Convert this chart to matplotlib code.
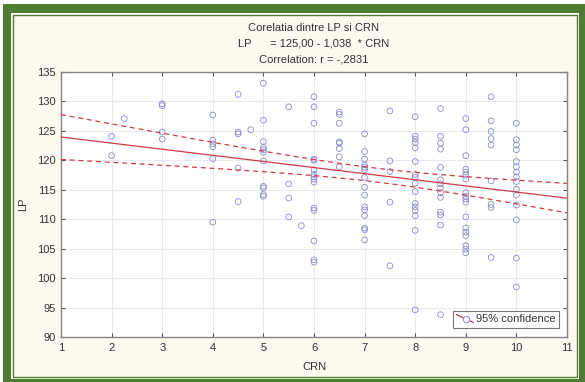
import numpy as np
import matplotlib.pyplot as plt
from matplotlib.lines import Line2D
from matplotlib.patches import Rectangle
from matplotlib.legend_handler import HandlerBase

plt.rcParams['font.family'] = ['Liberation Sans', 'DejaVu Sans']

# Valorile CRN si LP pentru fiecare nivel CRN
crn_levels = [2, 2.25, 3, 4, 4.5, 4.75, 5, 5.5, 5.75, 6, 6.5, 7, 7.5, 8, 8.5, 9, 9.5, 10]
lp_groups = [
    [124.1, 120.8],
    [127.1],
    [129.6, 129.3, 124.8, 123.6],
    [127.7, 123.4, 122.8, 122.3, 120.3, 109.5],
    [131.2, 124.8, 124.5, 118.7, 113.0],
    [125.2],
    [133.1, 126.8, 123.2, 122.2, 121.8, 121.4, 119.9, 115.6, 115.3, 114.2, 113.9],
    [129.1, 116.0, 113.6, 110.4],
    [108.9],
    [130.8, 129.1, 126.3, 120.2, 120.0, 118.4, 117.6, 117.2, 116.8, 116.3, 111.9, 111.5, 106.3, 103.1, 102.7],
    [128.2, 127.8, 126.3, 123.1, 122.9, 122.0, 120.6, 118.9],
    [124.5, 121.5, 120.2, 119.2, 118.8, 118.4, 117.1, 115.4, 114.1, 112.1, 111.6, 110.6, 108.5, 108.2, 106.5],
    [128.4, 119.9, 118.1, 112.9, 102.1],
    [127.4, 124.1, 123.6, 123.0, 122.1, 119.8, 117.6, 117.1, 116.1, 114.7, 112.7, 112.1, 111.5, 110.6, 108.1, 94.6],
    [128.8, 124.1, 122.9, 121.9, 118.8, 116.7, 116.0, 115.3, 114.5, 113.7, 111.2, 110.7, 109.0, 93.8],
    [127.1, 125.2, 120.8, 118.5, 118.0, 117.5, 116.8, 114.5, 113.9, 113.4, 112.9, 110.4, 108.5, 107.8, 107.2, 105.5, 104.9, 104.3],
    [130.8, 126.7, 124.9, 123.7, 122.6, 116.5, 112.5, 112.0, 103.5],
    [126.3, 123.5, 122.6, 121.8, 119.8, 118.9, 118.0, 117.2, 116.4, 115.1, 114.1, 112.4, 109.9, 103.4, 98.5],
]

# dreapta de regresie
intercept = 125.00
slope = -1.038
r = -0.2831

crn = np.concatenate([[c] * len(g) for c, g in zip(crn_levels, lp_groups)])
lp = np.concatenate(lp_groups)

# banda de incredere 95%
n = len(crn)
xm = crn.mean()
sxx = ((crn - xm) ** 2).sum()
resid = lp - (intercept + slope * crn)
s = np.sqrt((resid ** 2).sum() / (n - 2))
xs = np.linspace(1, 11, 200)
yfit = intercept + slope * xs
half = 1.97 * s * np.sqrt(1 / n + (xs - xm) ** 2 / sxx)

red = '#d23a48'
blue = '#8a8ac6'
txt = '#333333'

fig = plt.figure(figsize=(5.85, 3.82), dpi=100)
W, H = 585, 382


def frect(x0, y0, x1, y1, **kw):
    fig.patches.append(Rectangle((x0 / W, 1 - y1 / H), (x1 - x0) / W, (y1 - y0) / H,
                                 transform=fig.transFigure, **kw))


# rama verde
frect(3, 4, 585, 382, facecolor='#4e7d32', edgecolor='none', zorder=-10)
frect(10.5, 12.5, 578.5, 378.5, facecolor='white', edgecolor='none', zorder=-9)
frect(12.5, 14.5, 576.5, 376.5, facecolor='#fdf9ee', edgecolor='#4e7d32', linewidth=1.0, zorder=-8)

ax = fig.add_axes([61 / W, 1 - 337 / H, (567 - 61) / W, (337 - 72) / H])
ax.set_facecolor('white')

ax.scatter(crn, lp, s=17, facecolors='none', edgecolors=blue, linewidths=0.6, zorder=3)
ax.plot(xs, yfit, color=red, lw=0.9, zorder=4)
ax.plot(xs, yfit + half, color=red, lw=0.9, ls=(0, (4, 3)), zorder=4)
ax.plot(xs, yfit - half, color=red, lw=0.9, ls=(0, (4, 3)), zorder=4)

ax.set_xlim(1, 11)
ax.set_ylim(90, 135)
ax.set_xticks(range(1, 12))
ax.set_yticks(range(90, 136, 5))
ax.grid(True, color='#e3e4ee', lw=0.6, ls='-')
ax.set_axisbelow(True)
ax.tick_params(direction='in', length=3, width=0.8, color='#555555',
               top=True, right=True, labelsize=8, labelcolor=txt, pad=4)
for sp in ax.spines.values():
    sp.set_color('#858585')
    sp.set_linewidth(1.0)

ax.set_xlabel('CRN', fontsize=8, color=txt, labelpad=7)
ax.set_ylabel('LP', fontsize=8, color=txt, labelpad=6)

cx = 314 / W
line2 = ('LP      = %.2f - %.3f  * CRN' % (intercept, -slope)).replace('.', ',')
line3 = 'Correlation: r = -' + ('%.4f' % abs(r))[1:].replace('.', ',')
fig.text(cx, 1 - 28 / H, 'Corelatia dintre LP si CRN', ha='center', va='center', fontsize=8, color=txt)
fig.text(cx, 1 - 44 / H, line2, ha='center', va='center', fontsize=8, color=txt)
fig.text(cx, 1 - 59 / H, line3, ha='center', va='center', fontsize=8, color=txt)


class DiagHandler(HandlerBase):
    def create_artists(self, legend, orig, xd, yd, width, height, fontsize, trans):
        ln = Line2D([xd, xd + width], [yd + height, yd], color=red, lw=0.9, transform=trans)
        mk = Line2D([xd + width * 0.6], [yd + height * 0.4], marker='o', ms=4.5,
                    mfc='white', mec=blue, mew=0.7, ls='none', transform=trans)
        return [ln, mk]


handle = Line2D([], [])
leg = ax.legend([handle], ['95% confidence'], handler_map={Line2D: DiagHandler()},
                loc='lower right', bbox_to_anchor=(0.985, 0.035), fontsize=8,
                frameon=True, fancybox=False, handlelength=1.5, handletextpad=0.3,
                borderpad=0.3, borderaxespad=0.0)
leg.get_frame().set_edgecolor('#555555')
leg.get_frame().set_linewidth(0.8)
for t in leg.get_texts():
    t.set_color(txt)

fig.savefig('out.png', dpi=100)
